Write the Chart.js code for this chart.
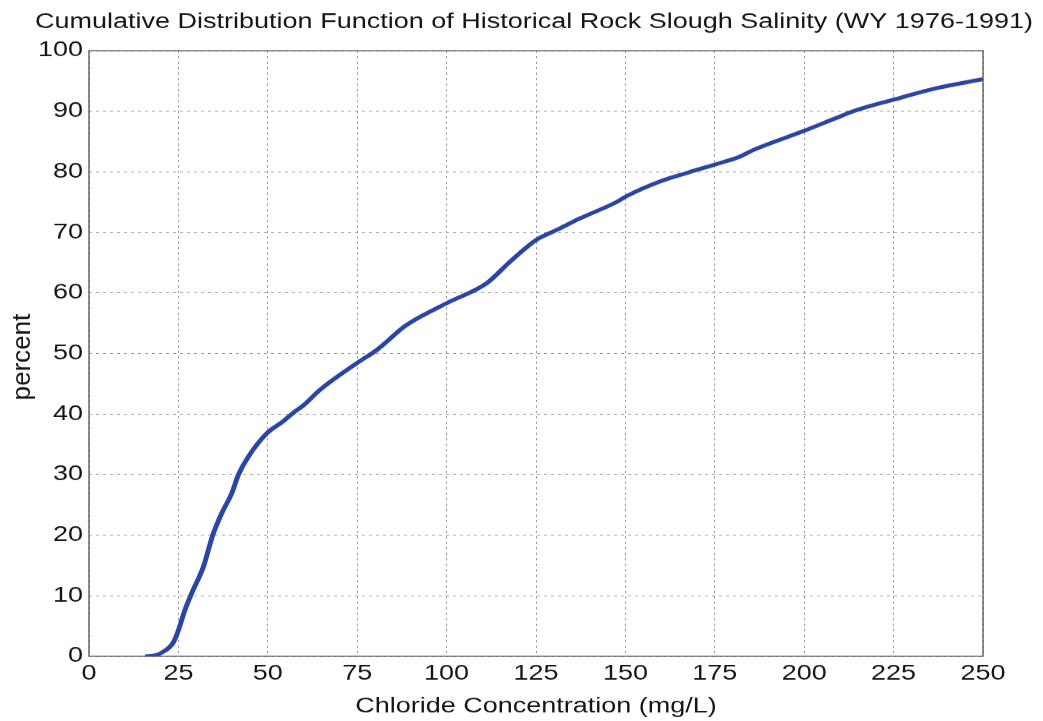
<!DOCTYPE html>
<html>
<head>
<meta charset="utf-8">
<script src="https://cdn.jsdelivr.net/npm/chart.js@4/dist/chart.umd.min.js"></script>
<style>
  html, body { margin: 0; padding: 0; background: #fff; }
</style>
</head>
<body>
<!-- the reference is squeezed vertically, so draw tall and squeeze with inline css -->
<canvas id="cdf" width="1043" height="925" style="display:block;width:1043px;height:721px"></canvas>
<script>
// ---------- DATA ----------
const chlorideMgL = [15.7, 18, 20, 23.6, 25, 26.8, 28.7, 32, 34.6, 37.1, 39.9, 41.8, 44.5, 49.7, 54.3, 57.1, 59.9, 64.6,
    74.9, 80.5, 88.8, 100, 111.2, 118, 125.2, 130.8, 137.3, 147.5, 150.4, 159.7, 167.1, 175, 182, 185.8,
    199.7, 209, 213.7, 224.9, 237, 250];
const cumulativePct = [0, 0.1, 0.5, 2.3, 4.3, 7.6, 10.4, 14.8, 20, 23.6, 26.9, 30, 32.9, 36.8, 38.8, 40.2, 41.4, 44,
    48.4, 50.6, 54.7, 58.3, 61.6, 65.3, 68.8, 70.4, 72.3, 75.0, 76.0, 78.4, 79.8, 81.2, 82.5, 83.6,
    86.7, 88.9, 90, 91.9, 93.8, 95.3];
const xTicks = [0, 25, 50, 75, 100, 125, 150, 175, 200, 225, 250];
const yTicks = [0, 10, 20, 30, 40, 50, 60, 70, 80, 90, 100];

const titleText = "Cumulative Distribution Function of Historical Rock Slough Salinity (WY 1976-1991)";
const xTitle = "Chloride Concentration (mg/L)";
const yTitle = "percent";

// ---------- STYLE ----------
const FONT = "'Liberation Sans', Arial, sans-serif";
const textColor = "#151515";
const gridColor = "#9a9a9a";
const squeeze = 721 / 925;

// box around the plot area (top and right sides too)
const frameBox = {
    id: "frameBox",
    afterDraw(chart) {
        const { ctx, chartArea: a } = chart;
        ctx.save();
        ctx.strokeStyle = "#5e5e5e";
        ctx.lineWidth = 1.4;
        ctx.strokeRect(a.left, a.top, a.right - a.left, a.bottom - a.top);
        ctx.restore();
    }
};

// title and y label: drawn by hand, the y label is not squeezed in the reference
const labels = {
    id: "labels",
    afterDraw(chart) {
        const { ctx } = chart;
        ctx.save();
        ctx.fillStyle = textColor;
        ctx.font = `27px ${FONT}`;
        ctx.textAlign = "center";
        ctx.textBaseline = "middle";
        ctx.fillText(titleText, 534, 29);

        ctx.translate(23, 357 / squeeze);
        ctx.scale(1, 1 / squeeze);
        ctx.rotate(-Math.PI / 2);
        ctx.font = `26px ${FONT}`;
        ctx.fillText(yTitle, 0, 0);
        ctx.restore();
    }
};

const points = chlorideMgL.map((x, i) => ({ x, y: cumulativePct[i] }));

new Chart(document.getElementById("cdf"), {
    type: "scatter",
    data: {
        datasets: [{
            data: points,
            showLine: true,
            borderColor: "#2a46a4",
            borderWidth: 5,
            cubicInterpolationMode: "monotone",
            pointRadius: 0,
            pointHoverRadius: 0
        }]
    },
    options: {
        responsive: false,
        animation: false,
        events: [],
        layout: { padding: { left: 0, right: 60, top: 65, bottom: 0 } },
        plugins: {
            legend: { display: false },
            tooltip: { enabled: false },
            title: { display: false }
        },
        scales: {
            x: {
                type: "linear",
                min: 0,
                max: 250,
                afterBuildTicks: s => { s.ticks = xTicks.map(v => ({ value: v })); },
                afterFit: s => { s.height = 83; },
                grid: { color: gridColor, lineWidth: 1, drawTicks: false },
                border: { display: false, dash: [3, 4] },
                ticks: {
                    color: textColor,
                    font: { family: FONT, size: 27 },
                    padding: 6,
                    maxRotation: 0,
                    autoSkip: false
                },
                title: {
                    display: true,
                    text: xTitle,
                    color: textColor,
                    font: { family: FONT, size: 27 },
                    padding: { top: 0, bottom: 2 }
                }
            },
            y: {
                type: "linear",
                min: 0,
                max: 100,
                afterBuildTicks: s => { s.ticks = yTicks.map(v => ({ value: v })); },
                afterFit: s => { s.width = 89; },
                grid: { color: gridColor, lineWidth: 1, drawTicks: false },
                border: { display: false, dash: [3, 4] },
                ticks: {
                    color: textColor,
                    font: { family: FONT, size: 27 },
                    padding: 6,
                    autoSkip: false
                },
                title: { display: false }
            }
        }
    },
    plugins: [frameBox, labels]
});
</script>
</body>
</html>
